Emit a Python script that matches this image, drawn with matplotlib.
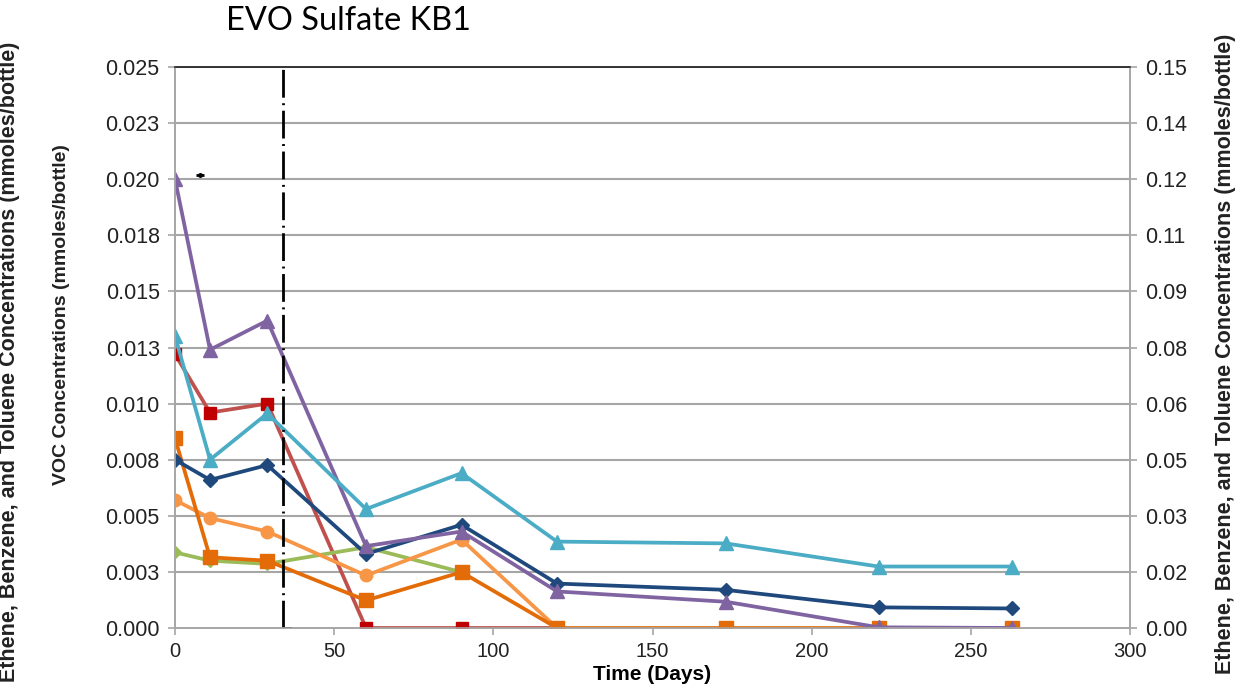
import matplotlib
matplotlib.use("Agg")
import matplotlib.pyplot as plt

# ---- data (left-axis units, mmoles/bottle) ----
days_full = [0, 11, 29, 60, 90, 120, 173, 221, 263]
purple = [0.0200, 0.0124, 0.0137, 0.00365, 0.0043, 0.00163, 0.00117, 0.00003, 0.0]
cyan = [0.0130, 0.0075, 0.00956, 0.0053, 0.0069, 0.00385, 0.00377, 0.00274, 0.00274]
navy = [0.0075, 0.0066, 0.00726, 0.0033, 0.0046, 0.00198, 0.0017, 0.00092, 0.00087]
dark_orange = [0.00845, 0.00315, 0.0030, 0.00123, 0.00249, 0.0, 0.0, 0.0, 0.0]

days_red = [0, 11, 29, 60, 90, 120]
red = [0.0122, 0.0096, 0.0100, 0.0, 0.0, 0.0]

days_lorange = [0, 11, 29, 60, 90, 120]
light_orange = [0.0057, 0.0049, 0.0043, 0.00234, 0.00394, 0.0]

days_green = [0, 11, 29, 60, 90]
green = [0.00337, 0.0030, 0.00286, 0.0036, 0.00249]

amendment_day = 34
stray_mark = (8, 0.0202)

left_ticks = [0, 0.0025, 0.005, 0.0075, 0.01, 0.0125, 0.015, 0.0175, 0.02, 0.0225, 0.025]
left_labels = ["0.000", "0.003", "0.005", "0.008", "0.010", "0.013", "0.015", "0.018", "0.020", "0.023", "0.025"]
right_ticks = [0, 0.015, 0.03, 0.045, 0.06, 0.075, 0.09, 0.105, 0.12, 0.135, 0.15]
right_labels = ["0.00", "0.02", "0.03", "0.05", "0.06", "0.08", "0.09", "0.11", "0.12", "0.14", "0.15"]
x_ticks = [0, 50, 100, 150, 200, 250, 300]

plt.rcParams['font.family'] = ['Liberation Sans', 'DejaVu Sans']

fig = plt.figure(figsize=(12.54, 6.92), dpi=100)
ax = fig.add_axes([175/1254, 1 - 628/692, (1130 - 175)/1254, (628 - 67)/692])
ax2 = ax.twinx()

ax.set_xlim(0, 300)
ax.set_ylim(0, 0.025)
ax2.set_ylim(0, 0.15)

grid_c = '#A6A6A6'
for t in left_ticks[1:]:
    ax.axhline(t, color=grid_c, lw=1.5, zorder=0)

lw = 2.7
ax.plot(days_red, red, color='#C0504D', lw=lw, marker='s', ms=8,
        mfc='#C00000', mec='#C00000', zorder=3)
ax.plot(days_green, green, color='#9BBB59', lw=lw, marker='D', ms=6,
        mfc='#9BBB59', mec='#9BBB59', zorder=3)
ax.plot(days_lorange, light_orange, color='#F79646', lw=lw, marker='o', ms=9,
        mfc='#F79646', mec='#F79646', zorder=4)
ax.plot(days_full, dark_orange, color='#E36C09', lw=lw, marker='s', ms=10,
        mfc='#E36C09', mec='#E36C09', zorder=4)
ax.plot(days_full, navy, color='#1F497D', lw=lw, marker='D', ms=7,
        mfc='#1F497D', mec='#1F497D', zorder=5)
ax.plot(days_full, purple, color='#8064A2', lw=lw, marker='^', ms=10,
        mfc='#8064A2', mec='#8064A2', zorder=5)
ax.plot(days_full, cyan, color='#4BACC6', lw=lw, marker='^', ms=10,
        mfc='#4BACC6', mec='#4BACC6', zorder=6)

# amendment line
ax.axvline(amendment_day, color='black', lw=2, linestyle=(0, (10, 2, 0.7, 2)), zorder=7)
ax.plot([amendment_day, amendment_day + 2], [0, 0], color='black', lw=2, zorder=7)
ax.plot([stray_mark[0]], [stray_mark[1]], marker='_', ms=6, mew=2, color='black', zorder=7)
ax.plot([stray_mark[0]], [stray_mark[1]], marker='o', ms=2.5, color='black', zorder=7)

ax.set_xticks(x_ticks)
ax.set_yticks(left_ticks)
ax.set_yticklabels(left_labels)
ax2.set_yticks(right_ticks)
ax2.set_yticklabels(right_labels)

for a in (ax, ax2):
    for s in a.spines.values():
        s.set_color(grid_c)
        s.set_linewidth(1.2)
    a.spines['top'].set_color('#333333')
    a.tick_params(colors='#222222', labelsize=15.5, color=grid_c, length=5, width=1.2, pad=6)

ax.tick_params(axis='x', labelsize=14.5, pad=5)
ax.set_xlabel('Time (Days)', fontsize=15, fontweight='bold', labelpad=3)

lab_kw = dict(rotation=90, ha='center', va='center', fontweight='bold', color='#222222')
fig.text(62/1254, 1 - 315/692, 'VOC Concentrations (mmoles/bottle)', fontsize=14, **lab_kw)
fig.text(10/1254, 1 - 362/692, 'Ethene, Benzene, and Toluene Concentrations (mmoles/bottle)',
         fontsize=15.5, **lab_kw)
fig.text(1225/1254, 1 - 354/692, 'Ethene, Benzene, and Toluene Concentrations (mmoles/bottle)',
         fontsize=15.5, **lab_kw)

fig.text(348/1254, 1 - 21/692, 'EVO Sulfate KB1', ha='center', va='center',
         fontsize=23.4, family=['Lato', 'DejaVu Sans'], color='black')

fig.savefig('out.png', dpi=100)
